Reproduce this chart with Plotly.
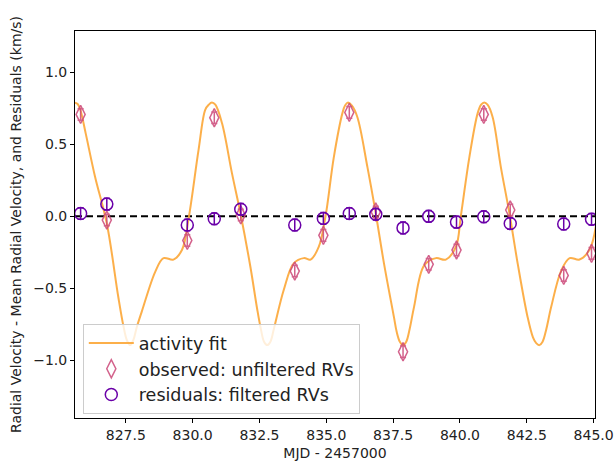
import plotly.graph_objects as go

# Observations (MJD - 2457000)
mjd = [825.81, 826.79, 829.80, 830.81, 831.80, 833.82, 834.89, 835.86,
       836.85, 837.87, 838.83, 839.87, 840.89, 841.88, 843.88, 844.92]
observed = [0.708, -0.026, -0.167, 0.685, 0.01, -0.38, -0.132, 0.722,
            0.03, -0.94, -0.333, -0.234, 0.708, 0.044, -0.41, -0.257]
observed_err = [0.04] * 16
residuals = [0.02, 0.085, -0.06, -0.016, 0.05, -0.06, -0.014, 0.02,
             0.014, -0.08, 0.0, -0.04, -0.003, -0.05, -0.053, -0.02]
residuals_err = [0.04] * 16

# Activity fit curve
fit_x = [825.6, 825.7, 825.8, 826.0, 826.35, 826.79, 827.22, 827.41, 827.54, 827.66,
         827.78, 827.91, 828.1, 828.6, 828.91, 829.28, 829.6, 829.85, 830.22,
         830.47, 830.6, 830.72, 830.85, 831.1, 831.47, 831.79, 832.16, 832.42,
         832.55, 832.67, 832.79, 832.91, 833.04, 833.41, 833.78, 834.16, 834.41,
         834.72, 834.97, 835.28, 835.6, 835.7, 835.81, 835.95, 836.16, 836.54,
         836.85, 837.16, 837.53, 837.63, 837.75, 837.87, 837.99, 838.12, 838.28,
         838.66, 839.1, 839.47, 839.85, 840.03, 840.35, 840.66, 840.79, 840.91,
         841.03, 841.22, 841.53, 841.85, 842.16, 842.53, 842.73, 842.85, 842.97,
         843.09, 843.22, 843.41, 843.78, 844.1, 844.47, 844.85, 845.1]
fit_y = [0.79, 0.78, 0.74, 0.576, 0.275, -0.05, -0.56, -0.76, -0.86, -0.894,
         -0.86, -0.77, -0.66, -0.385, -0.29, -0.30, -0.234, -0.014, 0.46,
         0.74, 0.775, 0.79, 0.775, 0.646, 0.30, 0.02, -0.35, -0.65,
         -0.78, -0.87, -0.894, -0.87, -0.78, -0.51, -0.327, -0.29, -0.30,
         -0.21, 0.0, 0.41, 0.715, 0.77, 0.79, 0.77, 0.69, 0.34,
         0.02, -0.33, -0.70, -0.80, -0.87, -0.894, -0.87, -0.78, -0.63,
         -0.34, -0.29, -0.30, -0.21, 0.0, 0.41, 0.715, 0.775, 0.79,
         0.775, 0.69, 0.34, 0.02, -0.33, -0.70, -0.84, -0.88, -0.894,
         -0.87, -0.79, -0.63, -0.38, -0.29, -0.30, -0.23, -0.05]

x_ticks = [827.5, 830.0, 832.5, 835.0, 837.5, 840.0, 842.5, 845.0]
y_ticks = [-1.0, -0.5, 0.0, 0.5, 1.0]

ORANGE = "rgba(252,166,54,0.9)"
PINK = "#cc4778"
PURPLE = "#6a00a8"
FONT = "DejaVu Sans"

fig = go.Figure()
fig.add_hline(y=0, line=dict(color="black", width=2, dash="7px,4px"), layer="below")
fig.add_trace(go.Scatter(x=fit_x, y=fit_y, mode="lines", name="activity fit",
                         line=dict(color=ORANGE, width=2, shape="spline", smoothing=1.0)))
fig.add_trace(go.Scatter(
    x=mjd, y=observed, mode="markers", name="observed: unfiltered RVs",
    marker=dict(symbol="diamond-tall-open", size=13, color=PINK, line=dict(width=1.5, color=PINK)),
    opacity=0.85,
    error_y=dict(type="data", array=observed_err, color=PINK, thickness=1.5, width=3)))
fig.add_trace(go.Scatter(
    x=mjd, y=residuals, mode="markers", name="residuals: filtered RVs",
    marker=dict(symbol="circle-open", size=12, color=PURPLE, line=dict(width=1.5, color=PURPLE)),
    error_y=dict(type="data", array=residuals_err, color=PURPLE, thickness=1.5, width=3)))

axis_common = dict(showline=True, linecolor="black", linewidth=1, mirror=True,
                   ticks="outside", ticklen=4, tickcolor="black", showgrid=False,
                   zeroline=False, automargin=False,
                   tickfont=dict(family=FONT, size=14, color="#222"))
fig.update_xaxes(range=[825.6, 845.05], tickvals=x_ticks, tickformat=".1f",
                 title=dict(text="MJD - 2457000", font=dict(family=FONT, size=14, color="#222"),
                            standoff=6), **axis_common)
fig.update_yaxes(range=[-1.4, 1.287], tickvals=y_ticks, tickformat=".1f",
                 title=dict(text="Radial Velocity - Mean Radial Velocity, and Residuals (km/s)",
                            font=dict(family=FONT, size=14, color="#222"), standoff=8),
                 **axis_common)

fig.update_layout(
    width=616, height=466,
    margin=dict(l=75, r=21, t=31, b=48),
    plot_bgcolor="white", paper_bgcolor="white",
    font=dict(family=FONT, color="#222"),
    legend=dict(x=0.015, y=0.01, xanchor="left", yanchor="bottom",
                bgcolor="rgba(255,255,255,0.8)", bordercolor="#cccccc", borderwidth=1,
                font=dict(family=FONT, size=17.5, color="#222"),
                tracegroupgap=0, itemwidth=45),
)

fig.write_html("out.html")
